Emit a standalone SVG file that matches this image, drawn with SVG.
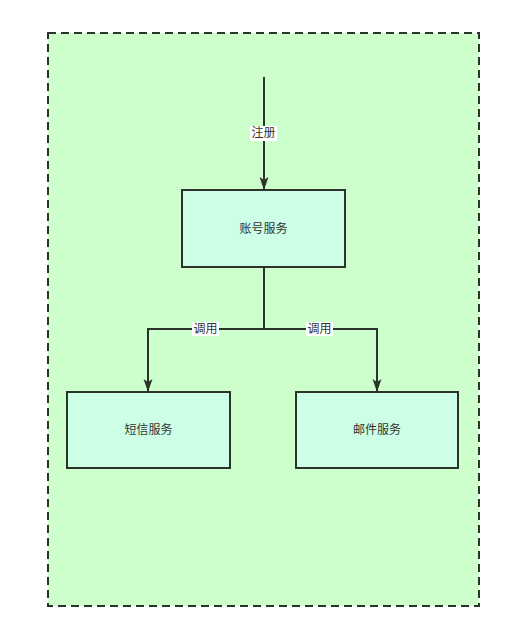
<svg xmlns="http://www.w3.org/2000/svg" width="521" height="644" viewBox="0 0 521 644">
<style>
.node{fill:#CCFFE6;stroke:#2B332B;stroke-width:2}
.lbl{font-family:"Liberation Sans","Noto Sans CJK SC",sans-serif;font-size:12px;fill:#333333;text-anchor:middle;dominant-baseline:central}
.edge{fill:none;stroke:#2B332B;stroke-width:2}
.elbl{font-family:"Liberation Sans","Noto Sans CJK SC",sans-serif;font-size:12px;fill:#333333;text-anchor:middle;dominant-baseline:central}
</style>
<defs>
<marker id="arr" markerWidth="13" markerHeight="10" refX="12" refY="5" orient="auto" markerUnits="userSpaceOnUse">
<path d="M0,0.5 L13,5 L0,9.5 L3,5 Z" fill="#2B332B"/>
</marker>
</defs>
<rect width="521" height="644" fill="#FFFFFF"/>
<g id="container">
<rect x="48" y="33" width="431" height="573" fill="#CCFFCC" stroke="#2B332B" stroke-width="2" stroke-dasharray="8 5"/>
</g>
<g id="connectors">
<path class="edge" d="M264,77 L264,189" marker-end="url(#arr)"/>
<path class="edge" d="M264,267 L264,329 L148,329 L148,391" marker-end="url(#arr)"/>
<path class="edge" d="M264,329 L377,329 L377,391" marker-end="url(#arr)"/>
<rect x="250" y="126" width="27" height="15" fill="#FFFFFF"/>
<text class="elbl" x="263.5" y="133">注册</text>
<rect x="192" y="322" width="27" height="14" fill="#FFFFFF"/>
<text class="elbl" x="205.5" y="329">调用</text>
<rect x="306" y="322" width="27" height="14" fill="#FFFFFF"/>
<text class="elbl" x="319.5" y="329">调用</text>
</g>
<g id="account">
<rect class="node" x="182" y="190" width="163" height="77"/>
<text class="lbl" x="263.5" y="228.5">账号服务</text>
</g>
<g id="sms">
<rect class="node" x="67" y="392" width="163" height="76"/>
<text class="lbl" x="148.5" y="430">短信服务</text>
</g>
<g id="mail">
<rect class="node" x="296" y="392" width="162" height="76"/>
<text class="lbl" x="377" y="430">邮件服务</text>
</g>
</svg>
